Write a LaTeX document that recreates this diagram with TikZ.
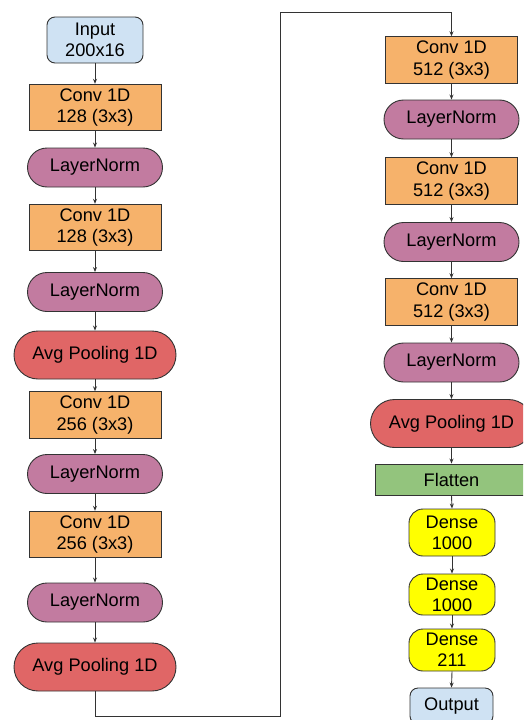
\documentclass[tikz,border=0pt]{standalone}
\usepackage{fontspec}
\setmainfont{Liberation Sans}
\usetikzlibrary{arrows.meta,shapes.misc}
\definecolor{cin}{HTML}{CFE2F3}
\definecolor{cconv}{HTML}{F6B26B}
\definecolor{cln}{HTML}{C27BA0}
\definecolor{cpool}{HTML}{E06666}
\definecolor{cflat}{HTML}{93C47D}
\definecolor{cdense}{HTML}{FFFF00}
\definecolor{cline}{HTML}{333333}
\tikzset{
  base/.style={draw=cline, line width=0.9pt, align=center, inner sep=0pt, text=black,
    font=\fontsize{18.2}{21.3}\selectfont},
  inbox/.style={base, fill=cin, rounded corners=8pt, minimum width=96pt, minimum height=46pt},
  outbox/.style={base, fill=cin, rounded corners=8pt, minimum width=83pt, minimum height=36pt},
  convbox/.style={base, fill=cconv, minimum width=132pt, minimum height=46.5pt},
  lnbox/.style={base, fill=cln, rounded rectangle, minimum width=135pt, minimum height=39pt},
  poolbox/.style={base, fill=cpool, rounded rectangle, minimum width=162pt, minimum height=48pt},
  flatbox/.style={base, fill=cflat, minimum width=153pt, minimum height=31pt},
  densebox/.style={base, fill=cdense, rounded corners=14pt, minimum width=86pt},
  arr/.style={draw=cline, line width=0.9pt, -{Stealth[length=5pt,width=4pt]}},
}
\begin{document}
\begin{tikzpicture}[x=1pt,y=-1pt]
\useasboundingbox (0,0) rectangle (523,720);
\clip (0,0) rectangle (523,720);
% left column
\node[inbox] (in) at (95,40) {Input\\200x16};
\node[convbox] (c1) at (95,107.5) {Conv 1D\\128 (3x3)};
\node[lnbox] (l1) at (95,167.5) {LayerNorm};
\node[convbox] (c2) at (95,227.5) {Conv 1D\\128 (3x3)};
\node[lnbox] (l2) at (95,292) {LayerNorm};
\node[poolbox] (p1) at (95,355) {Avg Pooling 1D};
\node[convbox] (c3) at (95,415) {Conv 1D\\256 (3x3)};
\node[lnbox] (l3) at (95,474) {LayerNorm};
\node[convbox] (c4) at (95,534.5) {Conv 1D\\256 (3x3)};
\node[lnbox] (l4) at (95,602.5) {LayerNorm};
\node[poolbox] (p2) at (95,667) {Avg Pooling 1D};
% right column
\node[convbox] (c5) at (451.5,60) {Conv 1D\\512 (3x3)};
\node[lnbox] (l5) at (451.5,119.5) {LayerNorm};
\node[convbox] (c6) at (451.5,181) {Conv 1D\\512 (3x3)};
\node[lnbox] (l6) at (451.5,242) {LayerNorm};
\node[convbox] (c7) at (451.5,302) {Conv 1D\\512 (3x3)};
\node[lnbox] (l7) at (451.5,362.5) {LayerNorm};
\node[poolbox] (p3) at (451.5,423.5) {Avg Pooling 1D};
\node[flatbox] (fl) at (451.5,479.5) {Flatten};
\node[densebox, minimum height=47pt] (d1) at (452,532.5) {Dense\\1000};
\node[densebox, minimum height=41pt] (d2) at (452,594.5) {Dense\\1000};
\node[densebox, minimum height=42pt] (d3) at (452,650) {Dense\\211};
\node[outbox] (out) at (451.5,706) {Output};
% connectors
\foreach \a/\b in {in/c1,c1/l1,l1/c2,c2/l2,l2/p1,p1/c3,c3/l3,l3/c4,c4/l4,l4/p2,
  c5/l5,l5/c6,c6/l6,l6/c7,c7/l7,l7/p3,p3/fl,fl/d1,d1/d2,d2/d3,d3/out}
  \draw[arr] (\a.south) -- (\b.north);
\coordinate (k1) at (280,716);
\coordinate (k2) at (451.5,12);
\draw[arr] (p2.south) |- (k1) |- (k2) -- (c5.north);
\end{tikzpicture}
\end{document}
